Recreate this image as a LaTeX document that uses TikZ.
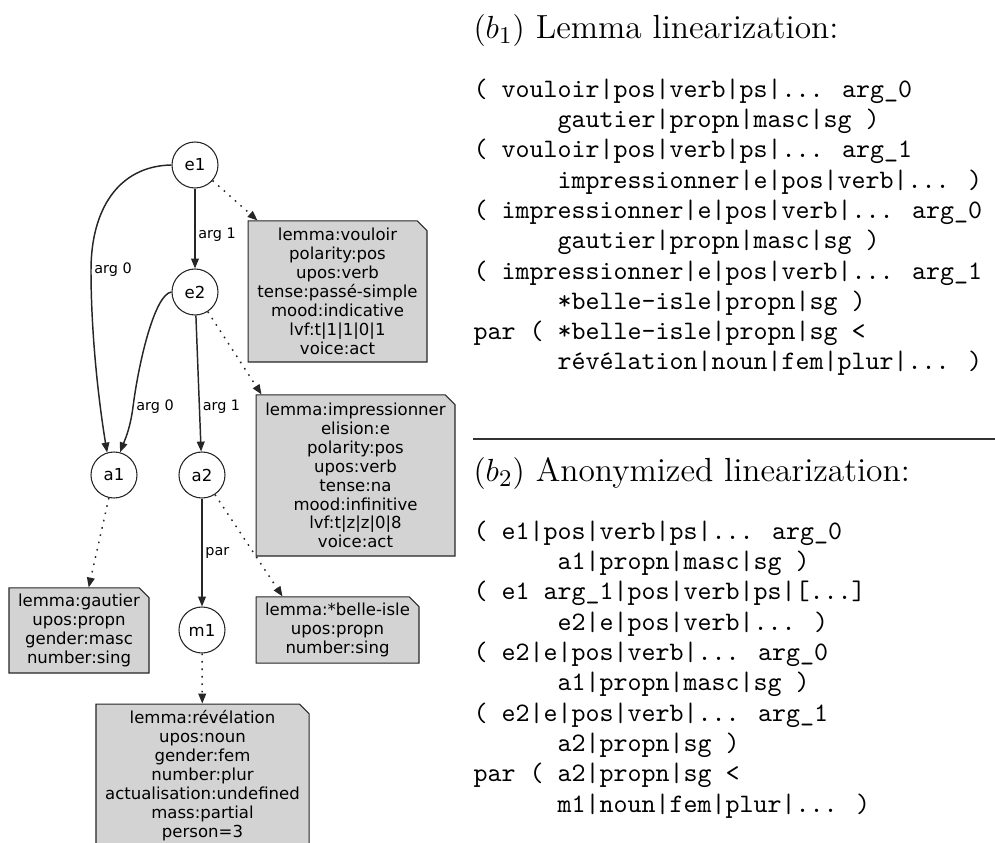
\documentclass[tikz,border=0pt]{standalone}
\usepackage{amsmath, amssymb}
\usepackage{fontspec}
\usepackage{tikz}
\usetikzlibrary{arrows.meta, shapes.misc, calc}
\newfontfamily\gvFont{DejaVu Sans}
\definecolor{noteGray}{RGB}{211,211,211}
\newcommand{\codeIndent}{\hspace*{31.5pt}}
\tikzstyle{vertexStyle}=[shape = circle, minimum size = 17.25pt, inner sep = 0pt, draw = black!85, fill = white, font = \gvFont\fontsize{6.2}{7.1}\selectfont]
\tikzstyle{noteStyle}=[shape = chamfered rectangle, chamfered rectangle corners = north east, chamfered rectangle sep = 1.8pt, inner sep = 0pt, draw = black!85, fill = noteGray, align = center, font = \gvFont\fontsize{6.2}{7.1}\selectfont, path picture = {\draw[black!85, line width = 0.4pt] ([xshift = -1.8pt]path picture bounding box.north east) |- ([yshift = -1.8pt]path picture bounding box.north east);}]

\begin{document}
\begin{tikzpicture}[x = 0.375pt, y = -0.375pt]
\tikzstyle{edgeStyle}=[draw = black!85, line width = 0.55pt, -{Triangle[length = 3.7pt, width = 2.9pt]}]
\tikzstyle{noteEdge}=[edgeStyle, dash pattern = on 0.6pt off 2.2pt]
\tikzstyle{labelStyle}=[anchor = west, inner sep = 1pt, font = \gvFont\fontsize{5.4}{6}\selectfont]
\tikzstyle{headStyle}=[anchor = base west, inner sep = 0pt, font = \fontsize{12.55}{15}\selectfont]
\tikzstyle{codeStyle}=[anchor = base west, inner sep = 0pt, align = left, font = \fontsize{10}{11.36}\selectfont\ttfamily]
\useasboundingbox (0,0) rectangle (995,843);
\node[vertexStyle] (e1) at (195,165) {e1};
\node[vertexStyle] (e2) at (195,292) {e2};
\node[vertexStyle] (a1) at (114,475) {a1};
\node[vertexStyle] (a2) at (202,475) {a2};
\node[vertexStyle] (m1) at (202,630) {m1};
\node[noteStyle, minimum width = 67.1pt, minimum height = 52.9pt] (n0) at (337.5,291.5) {lemma:vouloir\\polarity:pos\\upos:verb\\tense:passé-simple\\mood:indicative\\lvf:t|1|1|0|1\\voice:act};
\node[noteStyle, minimum width = 74.6pt, minimum height = 60.4pt] (n1) at (355.5,475.5) {lemma:impressionner\\elision:e\\polarity:pos\\upos:verb\\tense:na\\mood:infinitive\\lvf:t|z|z|0|8\\voice:act};
\node[noteStyle, minimum width = 52.5pt, minimum height = 31.9pt] (n2) at (79,630.5) {lemma:gautier\\upos:propn\\gender:masc\\number:sing};
\node[noteStyle, minimum width = 61.1pt, minimum height = 24.8pt] (n3) at (337.5,630) {lemma:*belle-isle\\upos:propn\\number:sing};
\node[noteStyle, minimum width = 79.9pt, minimum height = 53.6pt] (n4) at (202.5,775.5) {lemma:révélation\\upos:noun\\gender:fem\\number:plur\\actualisation:undefined\\mass:partial\\person=3};
\draw[edgeStyle] (e1.west) .. controls (118,166) and (91,210) .. (91,270) node[labelStyle] {arg 0} .. controls (91,340) and (100,410) .. (a1.107);
\draw[edgeStyle] (e1) -- (e2) node[labelStyle, pos = 0.58] {arg 1};
\draw[edgeStyle] (e2.west) .. controls (155,294) and (139,360) .. (133,407) node[labelStyle] {arg 0} .. controls (130,430) and (124,442) .. (a1.75);
\draw[edgeStyle] (e2) -- (a2) node[labelStyle, pos = 0.67] {arg 1};
\draw[edgeStyle] (a2) -- (m1) node[labelStyle, pos = 0.5] {par};
\draw[noteEdge] (e1) -- (n0);
\draw[noteEdge] (e2) -- ($(n1.north west)+(6,0)$);
\draw[noteEdge] (a1) -- (n2);
\draw[noteEdge] (a2) -- ($(n3.north west)+(27,0)$);
\draw[noteEdge] (m1) -- (n4);
\node[headStyle] (h1) at (473,39) {$(b_1)$ Lemma linearization:};
\node[codeStyle] (c1) at (473,370) {( vouloir|pos|verb|ps|... arg\_0\\
\codeIndent gautier|propn|masc|sg )\\
( vouloir|pos|verb|ps|... arg\_1\\
\codeIndent impressionner|e|pos|verb|... )\\
( impressionner|e|pos|verb|... arg\_0\\
\codeIndent gautier|propn|masc|sg )\\
( impressionner|e|pos|verb|... arg\_1\\
\codeIndent *belle-isle|propn|sg )\\
par ( *belle-isle|propn|sg <\\
\codeIndent révélation|noun|fem|plur|... )};
\coordinate (r0) at (473,439);
\coordinate (r1) at (995,439);
\draw[line width = 0.5pt, black!80] (r0) -- (r1);
\node[headStyle] (h2) at (473,482) {$(b_2)$ Anonymized linearization:};
\node[codeStyle] (c2) at (473,812) {( e1|pos|verb|ps|... arg\_0\\
\codeIndent a1|propn|masc|sg )\\
( e1 arg\_1|pos|verb|ps|[...]\\
\codeIndent e2|e|pos|verb|... )\\
( e2|e|pos|verb|... arg\_0\\
\codeIndent a1|propn|masc|sg )\\
( e2|e|pos|verb|... arg\_1\\
\codeIndent a2|propn|sg )\\
par ( a2|propn|sg <\\
\codeIndent m1|noun|fem|plur|... )};
\end{tikzpicture}
\end{document}
